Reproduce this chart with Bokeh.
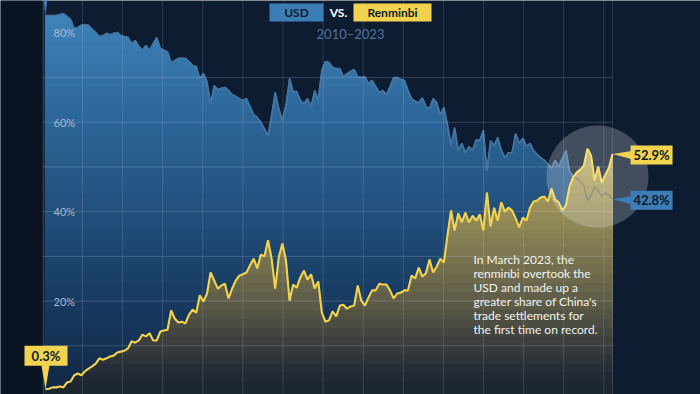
import numpy as np
import pandas as pd
from bokeh.plotting import figure
from bokeh.models import Range1d
from bokeh.core.properties import value
from bokeh.embed import file_html
from bokeh.resources import INLINE

# ---------------- data ----------------
months = pd.period_range("2010-01", "2023-03", freq="M").astype(str).tolist()

usd_share = [
    83.9, 83.9, 83.9, 83.9, 84.1, 84.3, 83.7, 83.0, 81.0, 81.2,
    81.7, 81.9, 81.7, 80.8, 80.1, 79.2, 79.4, 79.9, 79.6, 79.9,
    80.1, 79.4, 79.2, 79.0, 77.6, 78.3, 77.0, 76.1, 77.2, 76.1,
    77.6, 79.0, 76.5, 76.1, 75.8, 73.4, 73.8, 74.3, 74.3, 74.3,
    73.6, 72.7, 72.5, 69.8, 70.9, 69.1, 64.2, 68.2, 67.3, 67.6,
    67.8, 67.1, 66.2, 65.8, 65.3, 64.9, 65.3, 63.5, 61.7, 61.1,
    60.0, 58.6, 57.0, 61.5, 66.7, 63.1, 60.4, 63.8, 69.8, 66.9,
    66.9, 64.9, 64.2, 65.3, 63.5, 67.1, 65.1, 71.6, 73.6, 73.4,
    72.3, 72.0, 72.0, 70.2, 70.9, 71.4, 71.8, 70.2, 70.0, 70.2,
    68.7, 69.4, 68.0, 66.7, 67.1, 66.2, 68.0, 70.0, 70.0, 69.6,
    69.4, 67.1, 65.3, 64.7, 64.4, 65.5, 63.5, 63.1, 65.3, 64.4,
    61.7, 63.3, 59.5, 54.8, 58.8, 53.7, 55.3, 53.2, 54.6, 53.7,
    56.1, 55.9, 58.2, 49.2, 55.9, 54.8, 56.6, 53.7, 52.1, 53.2,
    53.2, 57.5, 55.3, 56.4, 54.6, 55.3, 53.7, 52.8, 52.1, 51.5,
    50.6, 49.7, 51.5, 50.1, 51.9, 53.7, 49.2, 47.9, 47.4, 46.8,
    45.9, 42.5, 43.6, 45.6, 44.7, 43.4, 44.3, 43.6, 42.8,
]

rmb_share = [
    0.3, 0.4, 0.7, 0.7, 0.9, 0.7, 1.8, 2.0, 3.4, 3.8,
    3.4, 4.3, 4.9, 5.4, 6.0, 7.2, 6.9, 7.2, 7.6, 7.8,
    8.5, 8.7, 8.9, 9.4, 11.0, 10.7, 11.2, 12.5, 12.1, 12.8,
    11.2, 11.2, 13.2, 13.4, 13.6, 17.9, 16.1, 15.2, 15.4, 15.0,
    17.0, 18.1, 17.4, 21.3, 19.9, 21.7, 26.4, 24.6, 22.8, 23.5,
    23.9, 20.6, 22.8, 24.6, 25.7, 26.0, 26.4, 28.0, 29.5, 27.3,
    30.4, 30.0, 33.6, 29.5, 22.8, 29.8, 32.9, 29.1, 20.1, 23.7,
    23.0, 25.3, 26.8, 24.8, 26.0, 22.8, 24.4, 17.4, 15.4, 15.7,
    17.7, 16.6, 19.0, 19.2, 18.3, 18.8, 19.0, 23.5, 20.1, 19.0,
    20.8, 22.4, 22.4, 23.9, 23.7, 23.7, 22.4, 20.6, 21.7, 21.9,
    22.4, 22.4, 25.7, 25.1, 27.5, 25.5, 26.2, 29.3, 26.4, 27.7,
    29.5, 28.6, 34.7, 40.3, 35.8, 39.6, 37.6, 39.8, 37.6, 39.1,
    38.0, 39.4, 35.8, 44.3, 36.7, 40.9, 38.0, 42.1, 40.0, 40.9,
    40.3, 38.5, 36.5, 38.7, 38.0, 40.9, 42.3, 42.5, 43.2, 43.4,
    42.3, 45.2, 42.7, 42.1, 40.3, 41.4, 45.6, 47.7, 48.8, 49.4,
    50.3, 54.1, 52.6, 47.0, 50.1, 46.5, 48.3, 49.9, 52.9,
]

y_tick_values = [80, 60, 40, 20]
y_tick_labels = ["80%", "60%", "40%", "20%"]
grid_values = [10, 20, 30, 40, 50, 60, 70]

legend_usd = "USD"
legend_vs = "VS."
legend_rmb = "Renminbi"
subtitle = "2010\u20132023"
note_lines = [
    "In March 2023, the",
    "renminbi overtook the",
    "USD and made up a",
    "greater share of China's",
    "trade settlements for",
    "the first time on record.",
]

# ---------------- geometry / style ----------------
W, H = 700, 394
PX_MONTH, PX_PCT = 3.589, 4.47
OX, OY = 45.0, 390.0          # page pixel of (month 0, 0%)


def dx(px):
    return (px - OX) / PX_MONTH


def dy(py):
    return (OY - py) / PX_PCT


def ox(p):
    return p / PX_MONTH


def oy(p):
    return p / PX_PCT


XS, XE = dx(0), dx(W)
YS, YE = dy(H), dy(0)

BG = "#0e1c31"
LEFT_BG = "#0a1423"
BLUE = "#3d7db6"
YELLOW = "#f2d34f"
DARK_TXT = "#0f1b2d"
FONT = value("Lato")


def hexc(rgb):
    return "#%02x%02x%02x" % tuple(int(round(c)) for c in rgb)


def grad(stops, v):
    vs = [s[0] for s in stops]
    return hexc([np.interp(v, vs, [s[1][k] for s in stops]) for k in range(3)])


blue_stops = [(0, (18, 40, 70)), (20, (23, 58, 96)), (40, (33, 80, 125)),
              (60, (44, 101, 151)), (80, (60, 125, 179)), (88, (68, 138, 192))]
yel_stops = [(0, (26, 36, 48)), (5, (38, 46, 54)), (10, (56, 60, 60)),
             (20, (94, 93, 72)), (30, (122, 117, 80)), (40, (150, 141, 86)),
             (50, (178, 164, 92)), (58, (196, 180, 98))]

x = np.arange(len(months))
usd = np.array(usd_share)
rmb = np.array(rmb_share)
last = x[-1]

p = figure(width=W, height=H, x_range=Range1d(XS, XE), y_range=Range1d(YS, YE),
           output_backend="svg", toolbar_location=None, min_border=0,
           x_axis_location=None, y_axis_location=None,
           background_fill_color=BG, border_fill_color=BG, outline_line_color=None)
p.grid.visible = False

# left dark panel
p.quad(left=XS, right=dx(42), bottom=YS, top=YE, fill_color=LEFT_BG, line_color=None)
p.segment(x0=dx(43), x1=dx(43), y0=YS, y1=YE, line_color="#3a6a98", line_alpha=0.5, line_width=1.5)

# blue (USD) area, gradient by layering
for cap in np.arange(88, 0, -2):
    p.varea(x=x, y1=np.minimum(usd, cap), y2=YS, fill_color=grad(blue_stops, cap - 1))
p.line(x, usd, line_color="#4f90cc", line_width=1.6)

# yellow (RMB) area
for cap in np.arange(58, 0, -2):
    p.varea(x=x, y1=np.minimum(rmb, cap), y2=YS, fill_color=grad(yel_stops, cap - 1))

# faint USD line where it passes under the RMB area
p.line(x, usd, line_color="#3c4c5a", line_alpha=0.45, line_width=1.3)

# grid lines
p.segment(x0=dx(42), x1=last, y0=grid_values, y1=grid_values,
          line_color="#d0dcea", line_alpha=0.2, line_width=1)
vgrid = [dx(82 + 40.1 * k) for k in range(14)] + [last]
p.segment(x0=vgrid, x1=vgrid, y0=YS, y1=YE, line_color="#d0dcea", line_alpha=0.16, line_width=1)

p.line(x, rmb, line_color=YELLOW, line_width=2.1)

# highlight circle around latest months
p.scatter(x=[last - 4.2], y=[(usd[-1] + rmb[-1]) / 2], size=102, marker="circle",
          fill_color="#ffffff", fill_alpha=0.22, line_color=None)

# USD start pointer (label above the frame)
p.patch(x=[-ox(2), ox(2), 0], y=[usd[0] + oy(17), usd[0] + oy(17), usd[0]],
        fill_color=BLUE, line_color=None)

# y labels
p.text(x=[dx(53)] * 4, y=y_tick_values, text=y_tick_labels, text_font=FONT,
       text_font_size="11px", text_color="#a9bccf", text_baseline="middle", text_align="left")


def callout(xa, ya, xoff_l, xoff_r, yc_off, half_h, color, label):
    p.quad(left=xa + ox(xoff_l), right=xa + ox(xoff_r), bottom=ya + oy(yc_off - half_h),
           top=ya + oy(yc_off + half_h), fill_color=color, line_color=None)
    p.text(x=[xa + ox((xoff_l + xoff_r) / 2)], y=[ya + oy(yc_off)], text=[label], text_font=FONT,
           text_font_style="bold", text_font_size="13px", text_color=DARK_TXT,
           text_align="center", text_baseline="middle")


# 52.9% callout
callout(last, rmb[-1], 18, 60, -1, 9.5, YELLOW, f"{rmb_share[-1]}%")
p.patch(x=[last, last + ox(19), last + ox(19)], y=[rmb[-1], rmb[-1] + oy(3), rmb[-1] - oy(5)],
        fill_color=YELLOW, line_color=None)
# 42.8% callout
callout(last, usd[-1], 18, 60, -1, 9.5, BLUE, f"{usd_share[-1]}%")
p.patch(x=[last, last + ox(19), last + ox(19)], y=[usd[-1], usd[-1] + oy(3), usd[-1] - oy(5)],
        fill_color=BLUE, line_color=None)
# 0.3% callout
callout(0, rmb[0], -21, 22, 33.5, 10, YELLOW, f"{rmb_share[0]}%")
p.patch(x=[-ox(4), ox(4), 0], y=[rmb[0] + oy(24), rmb[0] + oy(24), rmb[0]],
        fill_color=YELLOW, line_color=None)

# legend / title
p.quad(left=dx(269), right=dx(323), bottom=dy(21), top=dy(3), fill_color=BLUE, line_color=None)
p.quad(left=dx(353), right=dx(431), bottom=dy(21), top=dy(3), fill_color=YELLOW, line_color=None)
p.text(x=[dx(296), dx(392)], y=[dy(12), dy(12)], text=[legend_usd, legend_rmb], text_font=FONT,
       text_font_style="bold", text_font_size="12px", text_color=DARK_TXT,
       text_align="center", text_baseline="middle")
p.text(x=[dx(338)], y=[dy(12)], text=[legend_vs], text_font=FONT, text_font_style="bold",
       text_font_size="12px", text_color="#ffffff", text_align="center", text_baseline="middle")
p.text(x=[dx(350)], y=[dy(33)], text=[subtitle], text_font=FONT, text_font_size="13px",
       text_color="#4f7399", text_align="center", text_baseline="middle")

# annotation
p.text(x=[dx(473)] * len(note_lines), y=[dy(259 + 14 * k) for k in range(len(note_lines))],
       text=note_lines, text_font=FONT, text_font_size="12px", text_color="#f2f2f0",
       text_align="left", text_baseline="middle")

open("out.html", "w").write(file_html(p, INLINE))
